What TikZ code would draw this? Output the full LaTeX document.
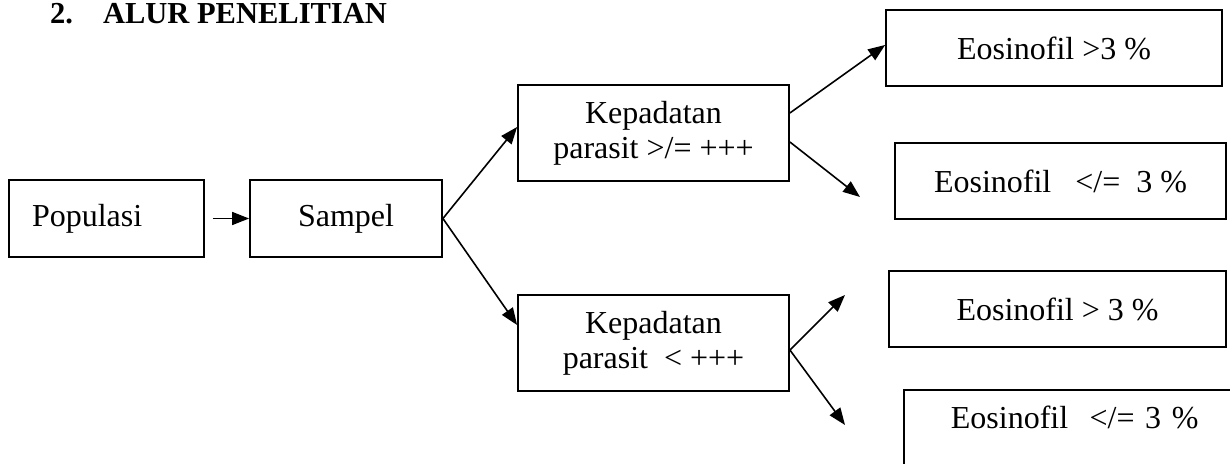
\documentclass[tikz,border=0pt]{standalone}
\usepackage{fontspec}
\setmainfont{Liberation Serif}
\usetikzlibrary{arrows.meta}
\begin{document}
\begin{tikzpicture}[x=1pt,y=-1pt,
  box/.style={draw,line width=1.8pt,inner sep=0pt,font=\fontsize{32}{35}\selectfont,align=center},
  conn/.style={line width=1.6pt,-{Triangle[length=17pt,width=13pt]}}]
\path[use as bounding box,clip] (0,0) rectangle (1230,463);
\fill[white] (0,0) rectangle (1230,463);
\node[anchor=base west,inner sep=0pt,font=\fontsize{30.5}{34}\selectfont\bfseries] (title) at (50,23) {2.\hspace{30pt}ALUR PENELITIAN};
\node[box,minimum width=195pt,minimum height=77pt,text width=149pt,align=left] (pop) at (106.5,218.5) {Populasi};
\node[box,minimum width=192pt,minimum height=77pt] (samp) at (346,218.5) {Sampel};
\node[box,minimum width=271pt,minimum height=96pt] (kep1) at (653.5,133) {Kepadatan\\parasit >/= +++};
\node[box,minimum width=271pt,minimum height=96pt] (kep2) at (653.5,343) {Kepadatan\\parasit\ \ < +++};
\node[box,minimum width=336pt,minimum height=76pt] (eos1) at (1054,48) {Eosinofil >3 \%};
\node[box,minimum width=331pt,minimum height=76pt] (eos2) at (1060.5,181) {Eosinofil\ \ \ </=\ \ 3 \%};
\node[box,minimum width=337pt,minimum height=76pt] (eos3) at (1057.5,309) {Eosinofil > 3 \%};
\node[box,anchor=north west,text width=300pt,align=left,inner xsep=47pt,inner ysep=19pt,text height=20pt,text depth=80pt] (eos4) at (903,389) {Eosinofil\ \ </= 3 \%};
\draw[conn,shorten <=8pt] (pop) -- (samp);
\draw[conn] (samp.east) -- ([yshift=6pt]kep1.west);
\draw[conn] (samp.east) -- ([yshift=18pt]kep2.west);
\draw[conn] ([yshift=20pt]kep1.east) -- ([yshift=3pt]eos1.west);
\coordinate (f1) at (860,197);
\coordinate (f2) at (845,295);
\coordinate (f3) at (845,425);
\draw[conn] ([yshift=-9pt]kep1.east) -- (f1);
\draw[conn] ([yshift=-7pt]kep2.east) -- (f2);
\draw[conn] ([yshift=-7pt]kep2.east) -- (f3);
\end{tikzpicture}
\end{document}
